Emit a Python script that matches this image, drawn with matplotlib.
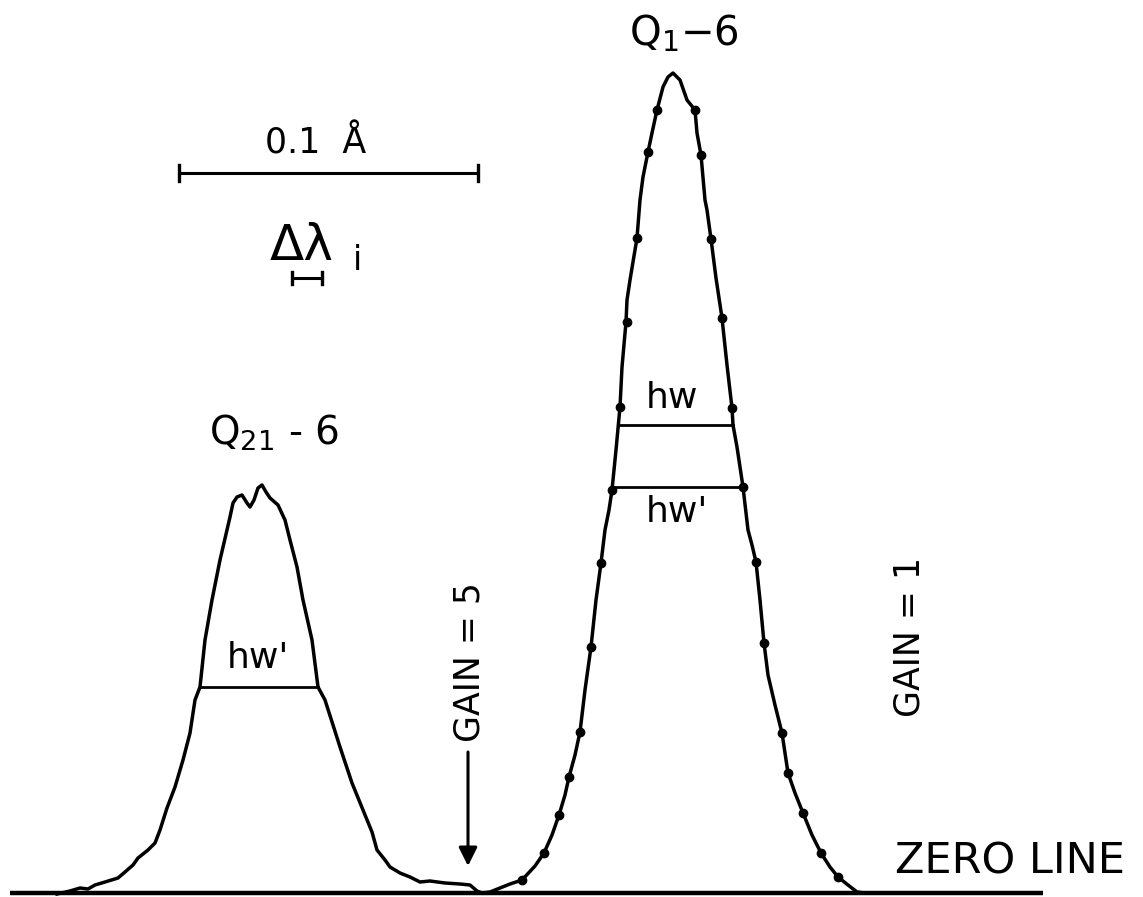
"""Recorder trace of the Q21-6 and Q1-6 lines with half-width markers."""

import matplotlib

matplotlib.use("Agg")
import matplotlib.pyplot as plt

zero_y = 893
zero_x = [10, 1043]

q21_x = [57, 70, 80, 88, 95, 105, 118, 125, 133, 138, 148, 155, 160, 167,
         175, 183, 190, 195, 200, 205, 212, 220, 230, 233, 237, 242, 247,
         250, 254, 258, 262, 266, 270, 278, 285, 290, 297, 303, 312, 318,
         325, 333, 340, 352, 363, 372, 377, 385, 390, 400, 410, 420, 430,
         445, 460, 470, 477, 482]
q21_y = [894, 891, 888, 889, 885, 882, 878, 872, 865, 858, 850, 843, 830, 808,
         787, 760, 733, 700, 687, 640, 600, 560, 517, 503, 497, 495, 503,
         507, 500, 488, 485, 492, 498, 505, 520, 540, 567, 600, 640, 687,
         700, 725, 747, 783, 810, 832, 850, 860, 867, 873, 877, 882, 881,
         883, 884, 885, 891, 893]

q1_x = [482, 490, 500, 510, 522, 535, 544, 552, 559, 565, 569, 575, 580, 585,
        591, 596, 601, 605, 609, 612, 616, 620, 622, 626, 627, 630, 637, 640,
        643, 648, 652, 657, 663, 668, 673, 680, 687, 695, 697, 701, 705, 707,
        711, 716, 722, 727, 732, 733, 737, 743, 748, 752, 756, 760, 764, 768,
        775, 782, 788, 795, 803, 812, 821, 830, 838, 848, 857, 865]
q1_y = [893, 892, 888, 884, 880, 866, 853, 835, 815, 795, 777, 755, 732, 690,
        647, 600, 563, 530, 510, 490, 450, 407, 367, 322, 300, 280, 238, 200,
        177, 152, 133, 110, 87, 77, 73, 80, 100, 110, 133, 155, 200, 210,
        239, 278, 318, 365, 408, 425, 447, 487, 530, 545, 562, 600, 643, 675,
        705, 733, 773, 793, 813, 835, 853, 867, 877, 885, 892, 893]

# Computed profile points plotted on the Q1-6 trace.
q1_dot_x = [657, 648, 637, 627, 620, 612, 601, 591, 580, 569, 559, 544, 522,
            695, 701, 711, 722, 732, 743, 756, 764, 782, 788, 803, 821, 838]
q1_dot_y = [110, 152, 238, 322, 407, 490, 563, 647, 732, 777, 815, 853, 880,
            110, 155, 239, 318, 408, 487, 562, 643, 733, 773, 813, 853, 877]

# Half-width chords: (x_left, x_right, y)
hw_q1 = (618, 733, 425)
hw_prime_q1 = (612, 743, 487)
hw_prime_q21 = (200, 318, 687)

# Scale bars: (x_left, x_right, y)
scale_bar = (179, 478, 173)
resolution_bar = (292, 322, 278)

figure = plt.figure(figsize=(11.43, 8.97), dpi=100)
axis = figure.add_axes([0, 0, 1, 1])
axis.set_xlim(0, 1143)
axis.set_ylim(897, 0)
axis.axis("off")

ink = "black"
font = "DejaVu Sans"

axis.plot(zero_x, [zero_y, zero_y], color=ink, lw=3.2, solid_capstyle="butt")
axis.plot(q21_x, q21_y, color=ink, lw=2.5, solid_joinstyle="round")
axis.plot(q1_x, q1_y, color=ink, lw=2.5, solid_joinstyle="round")
axis.plot(q1_dot_x, q1_dot_y, "o", color=ink, ms=6)

for x_left, x_right, y in (hw_q1, hw_prime_q1, hw_prime_q21):
    axis.plot([x_left, x_right], [y, y], color=ink, lw=2.0)

for (x_left, x_right, y), tick in ((scale_bar, 8), (resolution_bar, 6)):
    axis.plot([x_left, x_right], [y, y], color=ink, lw=2.2)
    for x in (x_left, x_right):
        axis.plot([x, x], [y - tick, y + tick], color=ink, lw=2.4)

axis.annotate("", xy=(468, 866), xytext=(468, 752),
              arrowprops=dict(arrowstyle="-|>", color=ink, lw=2.2,
                              mutation_scale=28, shrinkA=0, shrinkB=0))

axis.text(684, 45, "Q$_1$\u22126", fontsize=29, family=font,
          ha="center", va="baseline")
axis.text(274, 445, "Q$_{21}$ - 6", fontsize=28, family=font,
          ha="center", va="baseline")
axis.text(316, 153, "0.1  Å", fontsize=25, family=font,
          ha="center", va="baseline")
axis.text(302, 260, "Δλ", fontsize=36, family=font,
          ha="center", va="baseline")
axis.text(358, 270, "i", fontsize=24, family=font,
          ha="center", va="baseline")
axis.text(672, 398, "hw", fontsize=26, family=font,
          ha="center", va="center")
axis.text(677, 512, "hw'", fontsize=26, family=font,
          ha="center", va="center")
axis.text(258, 658, "hw'", fontsize=26, family=font,
          ha="center", va="center")
axis.text(470, 662, "GAIN = 5", fontsize=25, family=font,
          ha="center", va="center", rotation=90)
axis.text(910, 637, "GAIN = 1", fontsize=25, family=font,
          ha="center", va="center", rotation=90)
axis.text(1010, 862, "ZERO LINE", fontsize=31, family=font,
          ha="center", va="center")

figure.savefig("out.png", dpi=100)
plt.close(figure)
